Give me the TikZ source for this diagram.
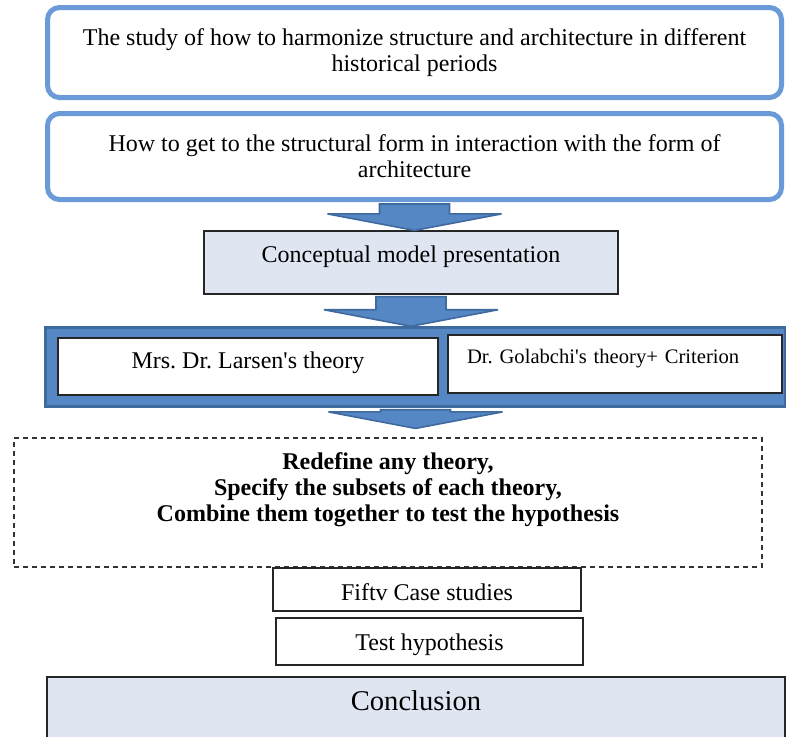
\documentclass[tikz,border=0pt]{standalone}
\usepackage{fontspec}
\setmainfont{Liberation Serif}
\usetikzlibrary{positioning,calc}
\definecolor{lineblue}{HTML}{6A9AD8}
\definecolor{arrowblue}{HTML}{5587C5}
\definecolor{arrowedge}{HTML}{3E6A9E}
\definecolor{paleblue}{HTML}{DFE6F2}
\tikzset{
  roundbox/.style={draw=lineblue, line width=2.5pt, rounded corners=6pt, fill=white,
    minimum width=367pt, align=center, font=\fontsize{12}{13}\selectfont},
  plainbox/.style={draw=black!85, line width=0.6pt, inner sep=0pt,
    font=\fontsize{12}{13}\selectfont},
  themeframe/.style={fill=arrowblue, draw=arrowedge, line width=1.5pt, inner sep=0pt,
    minimum width=369.75pt, minimum height=39.25pt},
  blockarrow/.style={fill=arrowblue, draw=arrowedge, line width=0.8pt}
}
% block arrow: from node, to node, gap left above the tip
\newcommand{\downblock}[3]{%
  \draw[blockarrow] let \p1=(#1.south), \p2=(#2.north) in
    (\x1-17.5pt,\y1-1pt) -- (\x1-17.5pt,\y2+#3+8.25pt) -- (\x1-43.5pt,\y2+#3+8.25pt)
    -- (\x1,\y2+#3) -- (\x1+43.5pt,\y2+#3+8.25pt) -- (\x1+17.5pt,\y2+#3+8.25pt)
    -- (\x1+17.5pt,\y1-1pt) -- cycle;}
\begin{document}
\frenchspacing
\begin{tikzpicture}[x=0.5pt,y=-0.5pt]
\useasboundingbox (0,0) rectangle (786,736);
% question boxes
\node[roundbox, minimum height=45pt] (q1) at (414.5,52.5)
  {The study of how to harmonize structure and architecture in different\\historical periods};
\node[roundbox, minimum height=43pt] (q2) at (414.5,156.5)
  {How to get to the structural form in interaction with the form of\\architecture};
\node[plainbox, fill=paleblue, minimum width=207pt, text height=15.5pt, text depth=16pt]
  (concept) at (411,262.5) {Conceptual model presentation};
% the two theories
\node[themeframe] (theories) at (415.5,367) {};
\node[plainbox, fill=white, minimum width=190pt, text height=15pt, text depth=13.5pt]
  (larsen) at (248,366.5) {Mrs. Dr. Larsen\textquotesingle s theory};
\node[plainbox, fill=white, inner xsep=9.5pt, text width=148pt, align=left,
  text height=14pt, text depth=15pt, font=\fontsize{10.3}{12}\selectfont]
  (golabchi) at (615,364) {Dr. Golabchi\textquotesingle s theory+ Criterion};
% method
\node[draw=black!80, dashed, dash pattern=on 2.5pt off 2pt, line width=0.6pt,
  minimum width=374pt, minimum height=64.5pt] (redefine) at (388,502.5) {};
\node[inner sep=0pt, align=center, font=\bfseries\fontsize{12}{13}\selectfont,
  below=7.5pt of redefine.north] (redefinetext)
  {Redefine any theory,\\Specify the subsets of each theory,\\Combine them together to test the hypothesis};
\node[plainbox, fill=white, minimum width=154pt, text height=16pt, text depth=5.5pt]
  (fifty) at (427,589.5) {Fiftv Case studies};
\node[plainbox, minimum width=153.5pt, text height=16pt, text depth=7.5pt]
  (test) at (429.5,641.5) {Test hypothesis};
\node[plainbox, fill=paleblue, minimum width=369pt, text height=16.5pt, text depth=17.5pt,
  font=\fontsize{14.3}{16}\selectfont] (conclusion) at (416,711) {Conclusion};
% arrows
\downblock{q2}{concept}{0pt}
\downblock{concept}{theories}{0pt}
\downblock{theories}{redefine}{4.5pt}
\end{tikzpicture}
\end{document}
